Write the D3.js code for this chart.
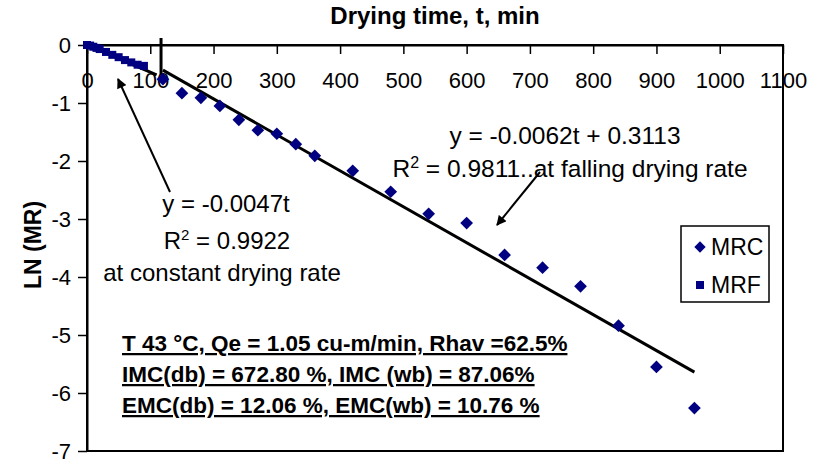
<!DOCTYPE html>
<html>
<head>
<meta charset="utf-8">
<script src="https://cdn.jsdelivr.net/npm/d3@7"></script>
<style>
  body { margin: 0; background: #fff; }
  text { font-family: "Liberation Sans", Arial, sans-serif; fill: #000; }
</style>
</head>
<body>
<svg id="chart" width="813" height="459"></svg>
<script>
// Drying time ticks (min) and LN(MR) ticks
const xTickValues = [0, 100, 200, 300, 400, 500, 600, 700, 800, 900, 1000, 1100];
const yTickValues = [0, -1, -2, -3, -4, -5, -6, -7];

// MRF: constant drying rate period
const mrfTime  = [0, 5, 10, 15, 20, 30, 40, 50, 60, 70, 80, 90];
const mrfValue = [0, -0.01, -0.03, -0.05, -0.07, -0.12, -0.17, -0.21, -0.26, -0.30, -0.34, -0.36];

// MRC: falling drying rate period
const mrcTime  = [120, 150, 180, 210, 240, 270, 300, 330, 360, 420, 480, 540, 600, 660, 720, 780, 840, 900, 960];
const mrcValue = [-0.59, -0.83, -0.91, -1.05, -1.29, -1.47, -1.53, -1.71, -1.91, -2.17, -2.53, -2.91, -3.07, -3.62, -3.84, -4.16, -4.84, -5.55, -6.26];

// Fitted lines, as stated in the equations
const constantFit = { slope: -0.0047, intercept: 0, from: 0, to: 110 };
const fallingFit  = { slope: -0.0062, intercept: 0.3113, from: 120, to: 960 };
const transitionTime = 117;

const svg = d3.select("#chart");
const x = d3.scaleLinear().domain([0, 1100]).range([87, 783]);
const y = d3.scaleLinear().domain([-7, 0]).range([451, 45]);
const navy = "#000080";
const plain = d => String(d);

svg.append("defs").append("marker")
  .attr("id", "headBig").attr("viewBox", "0 0 10 10")
  .attr("refX", 9).attr("refY", 5)
  .attr("markerWidth", 11).attr("markerHeight", 10)
  .attr("markerUnits", "userSpaceOnUse")
  .attr("orient", "auto")
  .append("path").attr("d", "M0,0 L10,5 L0,10 Z").attr("fill", "#000");

// Plot frame
svg.append("rect")
  .attr("x", x(0)).attr("y", y(0))
  .attr("width", x(1100) - x(0)).attr("height", y(-7) - y(0))
  .attr("fill", "none").attr("stroke", "#000").attr("stroke-width", 2);

// X axis crossing at LN(MR)=0
const xAxis = svg.append("g").attr("transform", `translate(0,${y(0)})`)
  .call(d3.axisBottom(x).tickValues(xTickValues).tickFormat(plain)
    .tickSize(9).tickSizeOuter(0).tickPadding(18));
xAxis.selectAll("text").style("font-size", "22px");

const yAxis = svg.append("g").attr("transform", `translate(${x(0)},0)`)
  .call(d3.axisLeft(y).tickValues(yTickValues).tickFormat(plain)
    .tickSize(9).tickSizeOuter(0).tickPadding(7));
yAxis.selectAll("text").style("font-size", "22px");

[xAxis, yAxis].forEach(g => {
  g.select(".domain").attr("stroke", "#000").attr("stroke-width", 2);
  g.selectAll(".tick line").attr("stroke", "#000").attr("stroke-width", 1.5);
  g.attr("font-family", null).attr("font-size", null);
});

// Titles
svg.append("text").attr("x", 435).attr("y", 24).attr("text-anchor", "middle")
  .style("font-weight", "bold").style("font-size", "24px").text("Drying time, t, min");
svg.append("text").attr("transform", "translate(41,245) rotate(-90)").attr("text-anchor", "middle")
  .style("font-weight", "bold").style("font-size", "23px").text("LN (MR)");

// Fitted lines
const fitLine = f => [[f.from, f.slope * f.from + f.intercept], [f.to, f.slope * f.to + f.intercept]];
const line = d3.line().x(d => x(d[0])).y(d => y(d[1]));
[constantFit, fallingFit].forEach(f => {
  svg.append("path").attr("d", line(fitLine(f)))
    .attr("fill", "none").attr("stroke", "#000").attr("stroke-width", 3);
});

// Transition marker between the two periods
svg.append("line")
  .attr("x1", x(transitionTime)).attr("y1", y(0) - 7)
  .attr("x2", x(transitionTime)).attr("y2", y(-0.52))
  .attr("stroke", "#000").attr("stroke-width", 3);

// MRF squares
svg.append("g").selectAll("path").data(mrfTime).join("path")
  .attr("d", d3.symbol(d3.symbolSquare, 64))
  .attr("transform", (t, i) => `translate(${x(t)},${y(mrfValue[i])})`)
  .attr("fill", navy);

// MRC diamonds
svg.append("g").selectAll("path").data(mrcTime).join("path")
  .attr("d", d3.symbol(d3.symbolSquare, 81))
  .attr("transform", (t, i) => `translate(${x(t)},${y(mrcValue[i])}) rotate(45)`)
  .attr("fill", navy);

// Annotations: falling rate
const rightNote = svg.append("g").style("font-size", "24.5px");
rightNote.append("text").attr("x", 565).attr("y", 144).attr("text-anchor", "middle")
  .text("y = -0.0062t + 0.3113");
const r2a = rightNote.append("text").attr("x", 570).attr("y", 177).attr("text-anchor", "middle");
r2a.append("tspan").text("R");
r2a.append("tspan").attr("dy", -9).style("font-size", "16px").text("2");
r2a.append("tspan").attr("dy", 9).text(" = 0.9811..at falling drying rate");
svg.append("line").attr("x1", 540).attr("y1", 172).attr("x2", 497).attr("y2", 225)
  .attr("stroke", "#000").attr("stroke-width", 2).attr("marker-end", "url(#headBig)");

// Annotations: constant rate
const leftNote = svg.append("g").style("font-size", "24px");
leftNote.append("text").attr("x", 226).attr("y", 212).attr("text-anchor", "middle").text("y = -0.0047t");
const r2b = leftNote.append("text").attr("x", 227).attr("y", 249).attr("text-anchor", "middle");
r2b.append("tspan").text("R");
r2b.append("tspan").attr("dy", -9).style("font-size", "15px").text("2");
r2b.append("tspan").attr("dy", 9).text(" = 0.9922");
leftNote.append("text").attr("x", 222).attr("y", 281).attr("text-anchor", "middle").text("at constant drying rate");
svg.append("line").attr("x1", 170).attr("y1", 192).attr("x2", 118).attr("y2", 79)
  .attr("stroke", "#000").attr("stroke-width", 2).attr("marker-end", "url(#headBig)");

// Drying conditions
const conditions = [
  "T 43 °C, Qe = 1.05 cu-m/min, Rhav =62.5%",
  "IMC(db) = 672.80 %, IMC (wb) = 87.06%",
  "EMC(db) = 12.06 %, EMC(wb) = 10.76 %"
];
svg.append("g").selectAll("text").data(conditions).join("text")
  .attr("x", 122).attr("y", (d, i) => 351 + i * 31)
  .style("font-size", "22.5px").style("font-weight", "bold")
  .style("text-decoration", "underline")
  .text(d => d);

// Legend
const legend = svg.append("g");
legend.append("rect").attr("x", 681).attr("y", 226).attr("width", 88).attr("height", 76)
  .attr("fill", "#fff").attr("stroke", "#000").attr("stroke-width", 1.5);
legend.append("path").attr("d", d3.symbol(d3.symbolSquare, 64))
  .attr("transform", "translate(700,247) rotate(45)").attr("fill", navy);
legend.append("text").attr("x", 711).attr("y", 255).style("font-size", "23px").text("MRC");
legend.append("path").attr("d", d3.symbol(d3.symbolSquare, 64))
  .attr("transform", "translate(700,285)").attr("fill", navy);
legend.append("text").attr("x", 711).attr("y", 293).style("font-size", "23px").text("MRF");
</script>
</body>
</html>
